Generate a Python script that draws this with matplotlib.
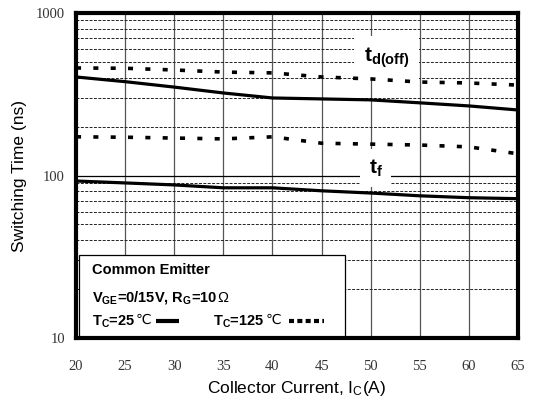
import numpy as np
import matplotlib
matplotlib.use("Agg")
import matplotlib.pyplot as plt
from matplotlib.patches import Rectangle
from matplotlib.ticker import FixedLocator, NullFormatter

plt.rcParams['mathtext.fontset'] = 'custom'
plt.rcParams['mathtext.rm'] = 'Liberation Sans'
plt.rcParams['mathtext.bf'] = 'Liberation Sans:bold'
plt.rcParams['mathtext.it'] = 'Liberation Sans'

# collector current (A) and switching times (ns)
ic = [20, 25, 30, 35, 40, 45, 50, 55, 60, 65]
td_off_25 = [404, 378, 350, 322, 300, 296, 292, 280, 268, 253]
td_off_125 = [459, 457, 446, 433, 428, 404, 393, 376, 371, 360]
tf_25 = [92.5, 90, 87.5, 84, 84, 80.5, 78, 75, 73, 72]
tf_125 = [173, 172, 170, 168, 173, 158, 156, 154, 150, 136]

xticks = [20, 25, 30, 35, 40, 45, 50, 55, 60, 65]
yticks = [10, 100, 1000]

fig = plt.figure(figsize=(5.33, 3.99), dpi=100)
ax = fig.add_axes([0.1426, 0.1529, 0.8294, 0.8145])
ax.set_yscale('log')
ax.set_xlim(20, 65)
ax.set_ylim(10, 1000)

# grid: solid verticals, dashed minor horizontals, solid decade line
for x in xticks[1:-1]:
    ax.axvline(x, color='#555555', lw=0.9, zorder=1)
ax.axhline(100, color='black', lw=0.9, zorder=1)
minor = [m * d for d in (10, 100) for m in range(2, 10)]
for y in minor:
    ax.axhline(y, color='#222222', lw=0.7, ls=(0, (3, 1.5)), zorder=1)

dot = (0, (1.4, 3.4))
ax.plot(ic, td_off_25, color='black', lw=2.3, zorder=3)
ax.plot(ic, tf_25, color='black', lw=2.3, zorder=3)
ax.plot(ic, td_off_125, color='black', lw=2.6, ls=dot, zorder=3)
ax.plot(ic, tf_125, color='black', lw=2.6, ls=dot, zorder=3)

ax.text(49.3, 500, r'$\mathbf{t_{d(off)}}$', fontsize=15, ha='left',
        va='baseline', zorder=2,
        bbox=dict(fc='white', ec='none', pad=7))
ax.text(49.8, 103, r'$\mathbf{t_{f}}$', fontsize=15, ha='left',
        va='baseline', zorder=2,
        bbox=dict(fc='white', ec='none', pad=6))

# condition box
ax.add_patch(Rectangle((0.007, 0.0), 0.602, 0.255, transform=ax.transAxes,
                       fc='white', ec='black', lw=0.9, zorder=4))
tkw = dict(transform=ax.transAxes, fontsize=10.5, fontweight='bold',
           family='Liberation Sans', va='center', zorder=5)
ax.text(0.036, 0.209, 'Common Emitter', **tkw)
ax.text(0.036, 0.126, r'V$_\mathbf{GE}$=0/15V, R$_\mathbf{G}$=10$\,\Omega$', **tkw)


def temp_label(x, y, s):
    t = ax.text(x, y, s, **tkw)
    ax.annotate('℃', xy=(1, y), xycoords=(t, ax.transAxes), va='center',
                ha='left', fontsize=10, family='DejaVu Sans', zorder=5,
                xytext=(0.5, 1.5), textcoords='offset points')


temp_label(0.036, 0.049, r'T$_\mathbf{C}$=25')
temp_label(0.31, 0.049, r'T$_\mathbf{C}$=125')
ax.plot([0.18, 0.232], [0.052, 0.052], transform=ax.transAxes, color='black',
        lw=3, zorder=5, solid_capstyle='butt')
ax.plot([0.482, 0.562], [0.052, 0.052], transform=ax.transAxes, color='black',
        lw=3, ls=(0, (1.2, 0.8)), zorder=5)

ax.set_xticks(xticks)
ax.set_yticks(yticks)
ax.set_yticklabels(['10', '100', '1000'])
ax.yaxis.set_minor_locator(FixedLocator([]))
ax.yaxis.set_minor_formatter(NullFormatter())
ax.tick_params(length=0, labelsize=10.5, labelcolor='#333333')
ax.tick_params(axis='x', pad=16)
ax.tick_params(axis='y', pad=8)
for lab in ax.get_xticklabels() + ax.get_yticklabels():
    lab.set_family('Liberation Serif')

for s in ax.spines.values():
    s.set_linewidth(3)
    s.set_zorder(6)

ax.set_xlabel(r'Collector Current, I$_\mathrm{C}$(A)', fontsize=12.5,
              family='Liberation Sans', labelpad=4)
ax.set_ylabel('Switching Time (ns)', fontsize=12.5, family='Liberation Sans',
              labelpad=6)

fig.savefig('out.png', dpi=100)
